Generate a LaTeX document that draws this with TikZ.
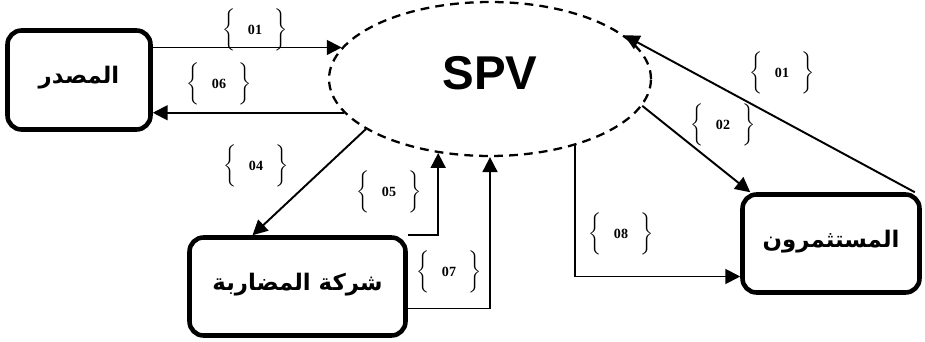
\documentclass[tikz,border=0pt]{standalone}
\usepackage{fontspec}
\setmainfont{Liberation Serif}
\newfontfamily\arabicfont[Script=Arabic]{DejaVu Sans}
\newfontfamily\spvfont{Liberation Sans}
\TeXXeTstate=1
\usetikzlibrary{arrows.meta,shapes.geometric}

\newcommand{\brnum}[1]{$\bigg\{$\hspace{0.25cm}{\footnotesize\bfseries #1}\hspace{0.25cm}$\bigg\}$}
\newcommand{\artext}[1]{\raisebox{0.2cm}{\arabicfont\bfseries\fontsize{13}{15}\selectfont\beginR #1\endR}}

\tikzset{
  party/.style={draw,line width=2.6pt,rounded corners=0.28cm,inner sep=0pt},
  flow/.style={line width=1.1pt,-{Triangle[length=8.5pt,width=8.5pt]}},
  tag/.style={inner sep=0pt},
}

\begin{document}
\begin{tikzpicture}[x=0.02cm,y=-0.02cm]
  \useasboundingbox (0,0) rectangle (925,341);
  % the vehicle
  \node[ellipse,draw,line width=1.3pt,dash pattern=on 5pt off 3.5pt,minimum width=6.44cm,minimum height=3.08cm,inner sep=0pt] (spv) at (490,79) {\spvfont\bfseries\fontsize{27}{30}\selectfont\raisebox{0.24cm}{SPV}};
  % the three parties
  \node[party,minimum width=2.86cm,minimum height=1.98cm] (src) at (79,80) {\artext{المصدر}};
  \node[party,minimum width=4.32cm,minimum height=1.96cm] (mud) at (297.5,286.5) {\artext{شركة المضاربة}};
  \node[party,minimum width=3.54cm,minimum height=1.96cm] (inv) at (831,243.5) {\artext{المستثمرون}};
  % source <-> vehicle
  \draw[flow] (src.east |- spv.168) -- (spv.168);
  \draw[flow] (spv.193) -- (src.east |- spv.193);
  % vehicle <-> company
  \draw[flow] (spv.202) -- ([xshift=-0.9cm]mud.north);
  \draw[flow] (mud.north east) -| (spv.235);
  \draw[flow] ([yshift=-0.44cm]mud.east) -| (spv.south);
  % vehicle <-> investors
  \draw[flow] (spv.350) -- ([xshift=0.2cm]inv.north west);
  \draw[flow] (spv.322) |- ([yshift=-0.66cm]inv.west);
  \draw[flow] ([xshift=-0.14cm]inv.north east) -- (spv.18);
  % step numbers
  \node[tag] (t01a) at (255,30) {\brnum{01}};
  \node[tag] (t06) at (219,84) {\brnum{06}};
  \node[tag] (t04) at (256,166) {\brnum{04}};
  \node[tag] (t05) at (389,192) {\brnum{05}};
  \node[tag] (t07) at (449,272) {\brnum{07}};
  \node[tag] (t08) at (621,234) {\brnum{08}};
  \node[tag] (t02) at (723,125) {\brnum{02}};
  \node[tag] (t01b) at (782,73) {\brnum{01}};
\end{tikzpicture}
\end{document}
